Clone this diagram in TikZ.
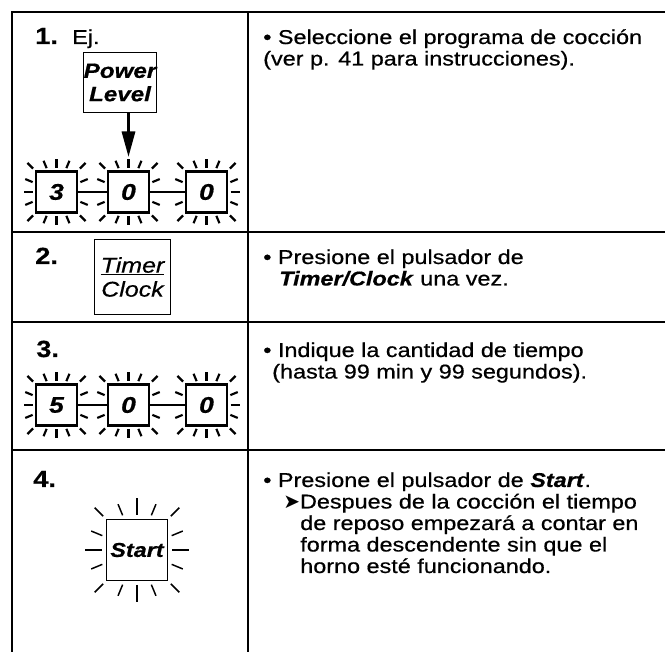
\documentclass[tikz,border=0pt]{standalone}
\usepackage{fontspec}
\setmainfont{Liberation Sans}[FakeStretch=1.17, FakeBold=0.6]
\newfontfamily\symfont{DejaVu Sans}
\usetikzlibrary{arrows.meta,positioning,calc}

\newcommand{\glowrays}[6]{%
  \foreach \k in {0,...,15}{%
    \pgfmathsetmacro{\ang}{22.5*\k}%
    \pgfmathsetmacro{\rin}{#2/max(abs(cos(\ang)),abs(sin(\ang)))+#3}%
    \pgfmathsetmacro{\rout}{\rin+(mod(\k,4)==0 ? #4 : #5)}%
    \draw[#6] ($(#1)+(\ang:\rin)$) -- ($(#1)+(\ang:\rout)$);
  }%
}

\begin{document}
\begin{tikzpicture}[x=0.75pt, y=-0.75pt,
    rule/.style={line width=1.2pt},
    txt/.style={anchor=base west, inner sep=0pt, font=\fontsize{15}{17}\selectfont},
    steplabel/.style={anchor=base west, inner sep=0pt, font=\fontsize{17.5}{20}\selectfont\bfseries},
    digit/.style={rectangle, draw, line width=1.8pt, minimum size=31pt, inner sep=0pt, font=\fontsize{17}{20}\selectfont\bfseries\itshape},
    key/.style={rectangle, draw, line width=1.1pt, inner sep=0pt, align=center, font=\fontsize{15.5}{17.5}\selectfont\bfseries\itshape},
    timerkey/.style={rectangle, draw, line width=0.8pt, inner sep=0pt, align=center, minimum width=57pt, minimum height=56pt, font=\fontsize{16}{18}\selectfont\itshape},
    startkey/.style={rectangle, draw, line width=0.9pt, inner sep=0pt, minimum size=45.5pt, font=\fontsize{15}{17}\selectfont\bfseries\itshape},
    ray/.style={line width=1.6pt},
    thinray/.style={line width=1.1pt},
    arrow/.style={line width=1.6pt, -{Triangle[width=10pt,length=19pt]}}
]
\useasboundingbox (0,0) rectangle (665,652);

\draw[rule] (665,12) -- (12,12) -- (12,652);
\draw[rule] (248,12) -- (248,652);
\foreach \yy in {232,322,450} \draw[rule] (12,\yy) -- (665,\yy);

\node[steplabel] (n1) at (35,44) {1.};
\node[txt] (ej) at (72,44) {Ej.};
\node[key, minimum width=55pt, minimum height=45pt] (power) at (120,82.5) {Power\\Level};
\node[digit] (d1) at (56.5,192) {3};
\node[digit] (d2) at (128.5,192) {0};
\node[digit] (d3) at (206.5,192) {0};
\glowrays{d1}{22}{2}{9}{8}{ray}
\glowrays{d2}{22}{2}{9}{8}{ray}
\glowrays{d3}{22}{2}{9}{8}{ray}
\draw[ray] (d1) -- (d2);
\draw[ray] (d2) -- (d3);
\draw[arrow, shorten >=10pt] (power.south -| d2.north) -- (d2.north);

\node[steplabel] (n2) at (35,264) {2.};
\node[timerkey] (timer) at (132.5,277) {\underline{Timer}\\Clock};

\node[steplabel] (n3) at (36,357) {3.};
\node[digit] (e1) at (56.5,405) {5};
\node[digit] (e2) at (128.5,405) {0};
\node[digit] (e3) at (206.5,405) {0};
\glowrays{e1}{22}{2}{9}{8}{ray}
\glowrays{e2}{22}{2}{9}{8}{ray}
\glowrays{e3}{22}{2}{9}{8}{ray}
\draw[ray] (e1) -- (e2);
\draw[ray] (e2) -- (e3);

\node[steplabel] (n4) at (33,487) {4.};
\node[startkey] (start) at (137,550) {Start};
\glowrays{start}{31}{4}{17}{12}{thinray}

\node[txt] (s1a) at (263,44) {• Seleccione el programa de cocción};
\node[txt] (s1b) at (263,65.5) {(ver p. 41 para instrucciones).};

\node[txt] (s2a) at (263,264) {• Presione el pulsador de};
\node[txt] (s2b) at (279,285.5) {\textbf{\textit{Timer/Clock}} una vez.};

\node[txt] (s3a) at (263,357) {• Indique la cantidad de tiempo};
\node[txt] (s3b) at (272,378.5) {(hasta 99 min y 99 segundos).};

\node[txt] (s4a) at (263,487) {• Presione el pulsador de \textbf{\textit{Start}}.};
\node[txt] (s4b) at (283,508.5) {{\symfont ➤}Despues de la cocción el tiempo};
\node[txt] (s4c) at (300,530) {de reposo empezará a contar en};
\node[txt] (s4d) at (300,551.5) {forma descendente sin que el};
\node[txt] (s4e) at (300,573) {horno esté funcionando.};

\end{tikzpicture}
\end{document}
